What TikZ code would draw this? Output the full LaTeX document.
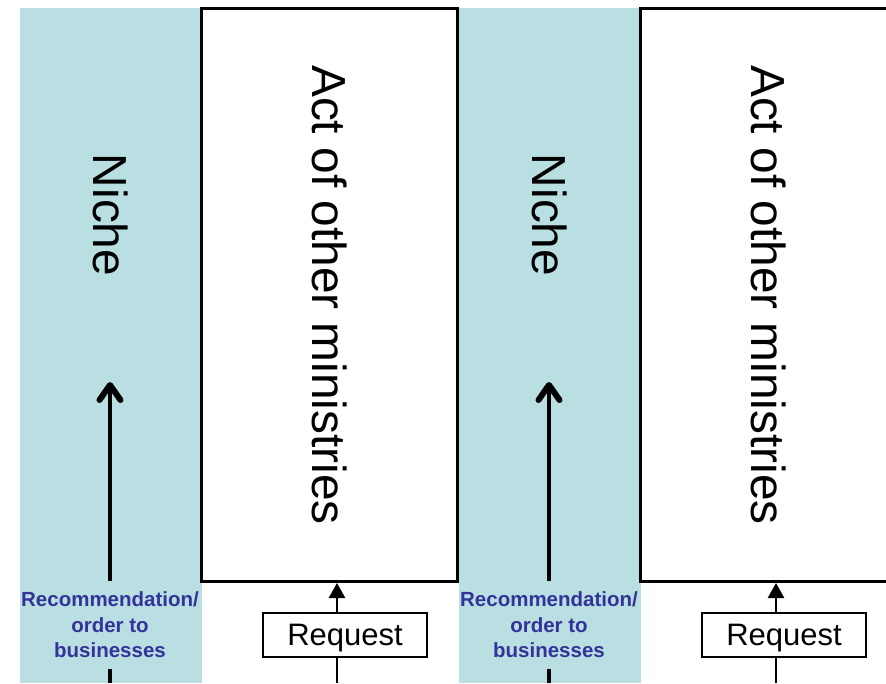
\documentclass[tikz,border=0pt]{standalone}
\usepackage{fontspec}
\setmainfont{Liberation Sans}
\usetikzlibrary{arrows.meta}
\definecolor{nichecol}{RGB}{185,223,226}
\definecolor{recblue}{RGB}{51,51,153}

\begin{document}
\begin{tikzpicture}[x=1pt,y=1pt]
    \tikzstyle{band}=[fill=nichecol,draw=none]
    \tikzstyle{actbox}=[rectangle,draw=black,fill=white,line width=3pt,minimum width=256pt,minimum height=573pt,inner sep=0pt]
    \tikzstyle{bigtext}=[font=\fontsize{47.8}{50}\selectfont,inner sep=0pt,rotate=-90]
    \tikzstyle{rec}=[font=\fontsize{20.5}{25.5}\selectfont\bfseries,text=recblue,align=center,inner xsep=0pt,inner ysep=11pt]
    \tikzstyle{req}=[rectangle,draw,line width=2pt,minimum width=164pt,minimum height=44pt,inner sep=0pt,text depth=0pt,font=\fontsize{31}{33}\selectfont]
    \tikzstyle{uparrow}=[line width=4pt,-{Straight Barb[length=15pt,width=21pt,line width=6pt,round]}]
    \tikzstyle{reqarrow}=[line width=2.5pt,-{Triangle[length=15pt,width=16pt]}]

    \clip (0,0) rectangle (886,683);

    \foreach \i/\o in {1/0,2/439} {
    \fill[band] (20+\o,0) rectangle (202+\o,675);
    \node[actbox] (act-\i) at (329.5+\o,388) {};
    \node[bigtext] (acttext-\i) at (act-\i) {Act of other ministries};
    \node[bigtext] (niche-\i) at (110.5+\o,468) {Niche};

    \coordinate (base-\i) at (110+\o,0);
    \coordinate (tip-\i) at (110+\o,301);
    \node[rec] (rec-\i) at (110+\o,58) {Recommendation/\\order to\\businesses};
    \draw[line width=4pt] (base-\i) -- (rec-\i.south);
    \draw[uparrow] (rec-\i.north) -- (tip-\i);

    \node[req] (req-\i) at (345+\o,48) {Request};
    \coordinate (rb-\i) at (337+\o,0);
    \draw[line width=2.5pt] (rb-\i) -- (rb-\i |- req-\i.south);
    \draw[reqarrow] (rb-\i |- req-\i.north) -- (rb-\i |- act-\i.south);
    }
  \end{tikzpicture}
\end{document}
